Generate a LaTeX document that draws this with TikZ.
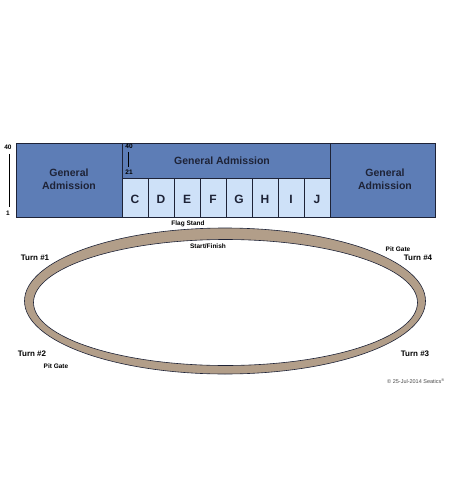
\documentclass[tikz,border=0pt]{standalone}
\usepackage{fontspec}
\setmainfont{Liberation Sans}
\definecolor{gablue}{RGB}{93,125,182}
\definecolor{seclight}{RGB}{206,225,248}
\definecolor{tracktan}{RGB}{178,158,137}
\definecolor{edge}{RGB}{30,35,55}
\begin{document}
\begin{tikzpicture}[x=1pt,y=-1pt,
  gabox/.style={draw=edge,line width=0.7pt,fill=gablue},
  secbox/.style={draw=edge,line width=0.6pt,fill=seclight},
  galabel/.style={font=\bfseries\fontsize{10.5}{12.5}\selectfont,text=edge,align=center},
  seclabel/.style={font=\bfseries\fontsize{12}{13}\selectfont,text=edge},
  smalllabel/.style={font=\bfseries\fontsize{6.5}{7.5}\selectfont,text=black},
  turnlabel/.style={font=\bfseries\fontsize{8}{9}\selectfont,text=black},
  tinylabel/.style={font=\fontsize{5.5}{6.5}\selectfont,text=black!70}]
\useasboundingbox[fill=white] (0,0) rectangle (450,500);
% blocks
\draw[gabox] (16,143) rectangle (122,217);
\draw[gabox] (122,143) rectangle (330,178);
\draw[gabox] (330,143) rectangle (435,217);
\foreach \l [count=\i from 0] in {C,D,E,F,G,H,I,J}{
  \draw[secbox] ({122+26*\i},178) rectangle ({148+26*\i},217);
  \node[seclabel] (sec\l) at ({135+26*\i},199) {\l};
}
\node[galabel] (gaL) at (69,179) {General\\Admission};
\node[galabel] (gaM) at (222,161) {General Admission};
\node[galabel] (gaR) at (385,179) {General\\Admission};
% row markers
\node[smalllabel] (r40) at (8,147) {40};
\node[smalllabel] (r1) at (8,213) {1};
\draw[line width=0.6pt] (r40.south) ++(1.5,1) coordinate (a1) -- (a1 |- r1.north) coordinate (a2);
\node[smalllabel] (m40) at (129,146.5) {40};
\node[smalllabel] (m21) at (129,172.5) {21};
\draw[line width=0.6pt] ([xshift=-1pt]m40.south) -- ([xshift=-1pt]m21.north);
% track
\fill[tracktan,even odd rule] (225,301) ellipse [x radius=200.5, y radius=73]
  (225.5,302.5) ellipse [x radius=192, y radius=63];
\draw[edge,line width=0.6pt] (225,301) ellipse [x radius=200.5, y radius=73];
\draw[edge,line width=0.6pt] (225.5,302.5) ellipse [x radius=192, y radius=63];
% labels
\node[smalllabel] (flag) at (188,223.5) {Flag Stand};
\node[smalllabel] (start) at (208,246) {Start/Finish};
\node[smalllabel] (pit4) at (398,249) {Pit Gate};
\node[turnlabel] (t4) at (418,258) {Turn \#4};
\node[turnlabel] (t1) at (35,258) {Turn \#1};
\node[turnlabel] (t2) at (32,354) {Turn \#2};
\node[smalllabel] (pit2) at (56,366.5) {Pit Gate};
\node[turnlabel] (t3) at (415,354) {Turn \#3};
\node[tinylabel] (copy) at (416,381) {© 25-Jul-2014 Seatics\textsuperscript{®}};
\end{tikzpicture}
\end{document}
